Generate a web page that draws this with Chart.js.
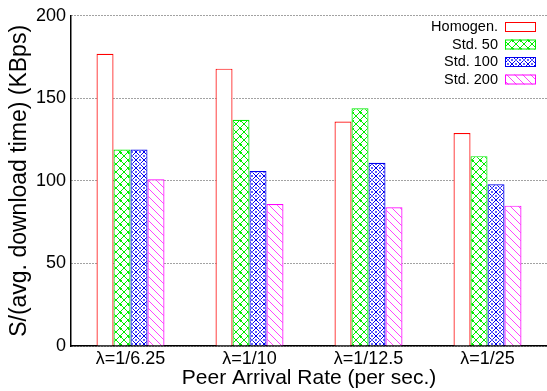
<!DOCTYPE html>
<html><head><meta charset="utf-8">
<script src="https://cdn.jsdelivr.net/npm/chart.js@4"></script>
<style>html,body{margin:0;padding:0;background:#fff}#wrap{width:547px;height:391px}</style>
</head><body><div id="wrap"><canvas id="c" width="547" height="391"></canvas></div>
<script>
const categories = ["λ=1/6.25", "λ=1/10", "λ=1/12.5", "λ=1/25"];
const seriesNames = ["Homogen.", "Std. 50", "Std. 100", "Std. 200"];
const homogen = [177, 168, 136, 129];
const std50 = [119, 137, 144, 115];
const std100 = [119, 106, 111, 98];
const std200 = [101, 86, 84, 85];
const yTicks = [0, 50, 100, 150, 200];

const FONT = '"Liberation Sans", Arial, sans-serif';

function makePattern(kind){
  const p = document.createElement('canvas');
  const s = 8; p.width = s; p.height = s;
  const g = p.getContext('2d');
  g.fillStyle = '#fff'; g.fillRect(0,0,s,s);
  if(kind==='green'){
    g.fillStyle = '#00ee00';
    for(let i=0;i<s;i++){ g.fillRect(i,i,1,1); g.fillRect(s-1-i,i,1,1); }
    g.fillRect(0,0,2,2);
  } else if(kind==='blue'){
    g.fillStyle = '#0000ee';
    for(let i=0;i<s;i++){ g.fillRect(i,i,1,1); g.fillRect(s-1-i,i,1,1); }
    g.fillStyle = '#6060ff';
    g.fillRect(3,0,2,1); g.fillRect(3,7,2,1); g.fillRect(0,3,1,2); g.fillRect(7,3,1,2);
    g.fillRect(3,3,2,2);
  } else if(kind==='magenta'){
    g.fillStyle = '#ff44ff';
    for(let i=0;i<s;i++){ g.fillRect(i,i,1,1); }
  }
  return g.createPattern(p,'repeat');
}

const ctx = document.getElementById('c').getContext('2d');
const colors = ['#ff0000','#00ee00','#0000ee','#ff00ff'];
const fills = ['#ffffff', makePattern('green'), makePattern('blue'), makePattern('magenta')];
const values = [homogen, std50, std100, std200];

const legendPlugin = {
  id:'insideLegend',
  afterDraw(chart){
    const c = chart.ctx;
    c.save();
    c.font = '14.5px ' + FONT;
    c.textAlign = 'right'; c.textBaseline = 'middle';
    chart.data.datasets.forEach((ds,i)=>{
      const y = 27 + i*17.5;
      c.fillStyle = '#000';
      c.fillText(ds.label, 498, y);
      c.fillStyle = ds.backgroundColor;
      c.fillRect(505, y-5, 30, 10);
      c.strokeStyle = ds.borderColor; c.lineWidth = 1;
      c.strokeRect(505.5, y-4.5, 30, 9);
    });
    c.restore();
  }
};

new Chart(ctx, {
  type:'bar',
  data:{
    labels: categories,
    datasets: seriesNames.map((n,i)=>({
      label:n, data: values[i], backgroundColor: fills[i], borderColor: colors[i],
      borderWidth: 1.2, borderSkipped: 'bottom',
      categoryPercentage: 0.571, barPercentage: 1.0
    }))
  },
  options:{
    responsive:false, animation:false,
    layout:{padding:{top:13,right:0,left:0,bottom:0}},
    plugins:{legend:{display:false}, tooltip:{enabled:false}},
    scales:{
      x:{
        afterFit: s=>{ s.height = 45; },
        grid:{display:false, drawTicks:false},
        border:{color:'#000', width:1.5},
        ticks:{color:'#000', font:{size:18, family:FONT}, padding:2},
        title:{display:true, text:'Peer Arrival Rate (per sec.)', color:'#000',
               font:{size:21, family:FONT}, padding:{top:0,bottom:0}}
      },
      y:{
        min:0, max:200,
        afterFit: s=>{ s.width = 71; },
        afterBuildTicks: s=>{ s.ticks = yTicks.map(v=>({value:v})); },
        grid:{color:'#444', drawTicks:false, lineWidth:1},
        border:{color:'#000', width:1.5, dash:[1,2]},
        ticks:{color:'#000', font:{size:18, family:FONT}, padding:5},
        title:{display:true, text:'S/(avg. download time) (KBps)', color:'#000',
               font:{size:23, family:FONT}, padding:{top:6,bottom:0}}
      }
    }
  },
  plugins:[legendPlugin]
});
</script></body></html>
